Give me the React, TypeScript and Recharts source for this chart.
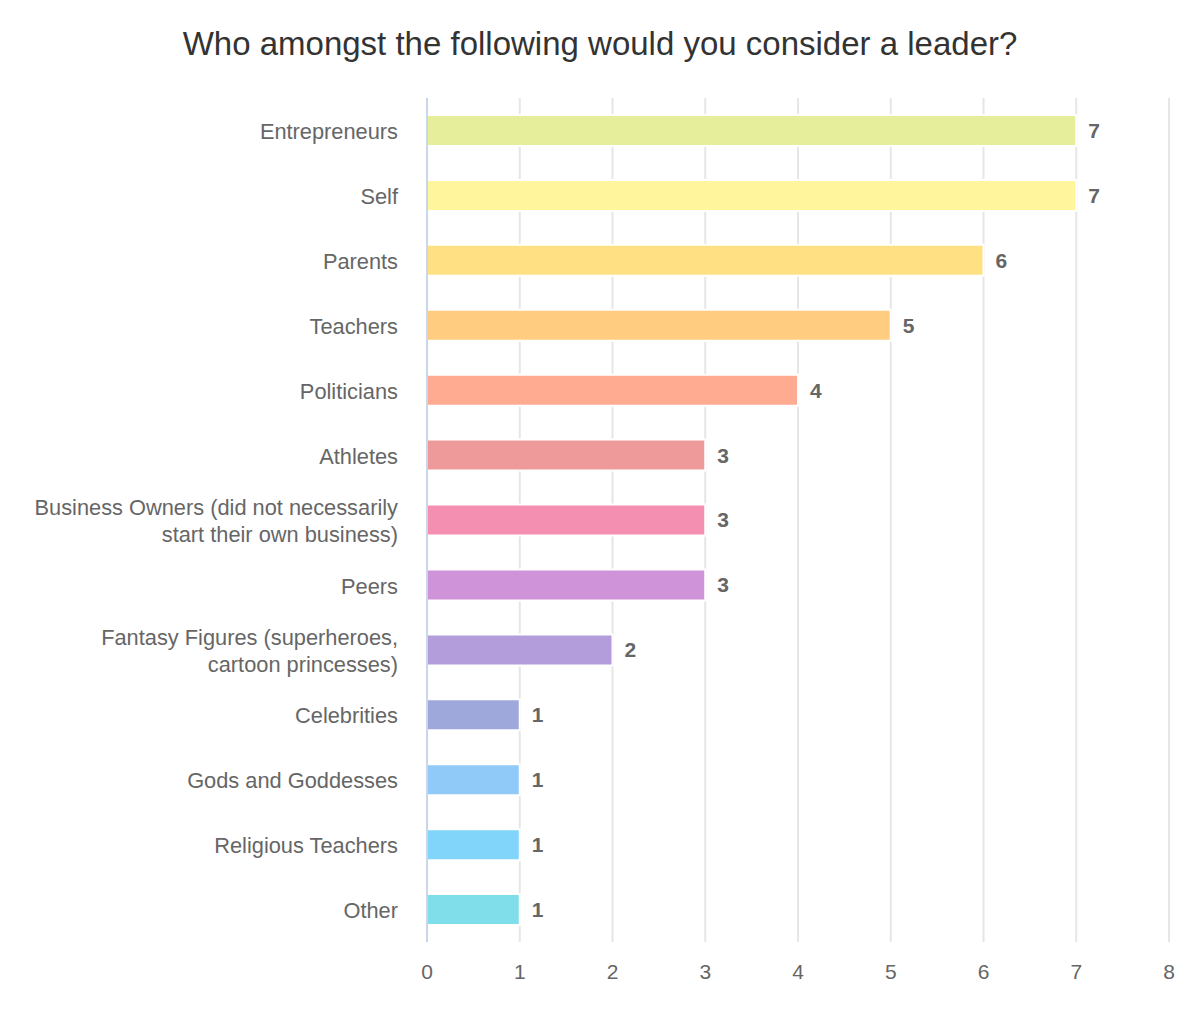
import { BarChart, Bar, XAxis, YAxis, CartesianGrid, Cell, LabelList } from 'recharts'

const categories = [
  'Entrepreneurs',
  'Self',
  'Parents',
  'Teachers',
  'Politicians',
  'Athletes',
  'Business Owners (did not necessarily\nstart their own business)',
  'Peers',
  'Fantasy Figures (superheroes,\ncartoon princesses)',
  'Celebrities',
  'Gods and Goddesses',
  'Religious Teachers',
  'Other',
]

const counts = [7, 7, 6, 5, 4, 3, 3, 3, 2, 1, 1, 1, 1]

const barColors = [
  '#e6ee9c', '#fff59d', '#ffe082', '#ffcc80', '#ffab91', '#ef9a9a', '#f48fb1',
  '#ce93d8', '#b39ddb', '#9fa8da', '#90caf9', '#81d4fa', '#80deea',
]

const xTicks = [0, 1, 2, 3, 4, 5, 6, 7, 8]

const data = categories.map((name, i) => ({ name, value: counts[i] }))

const FONT = '"Liberation Sans", Arial, sans-serif'

function CategoryTick({ x, y, payload }: any) {
  const lines = String(payload.value).split('\n')
  const lh = 27
  const start = -((lines.length - 1) * lh) / 2
  return (
    <text x={x} y={y} textAnchor="end" fill="#666" fontSize={21.8} fontFamily={FONT}>
      {lines.map((l, i) => (
        <tspan key={i} x={x} y={y + start + i * lh + 1} dy="0.35em">{l}</tspan>
      ))}
    </text>
  )
}

export default function App() {
  return (
    <div style={{ position: 'absolute', left: 0, top: 0, width: 1200, height: 1010, background: '#fff' }}>
      <div
        style={{
          position: 'absolute', left: 0, top: 24, width: 1200, textAlign: 'center',
          fontFamily: FONT, fontSize: 33, color: '#333', lineHeight: '40px',
        }}
      >
        Who amongst the following would you consider a leader?
      </div>
      <BarChart
        width={1200}
        height={1010}
        data={data}
        layout="vertical"
        margin={{ top: 98, right: 31, bottom: 38, left: 0 }}
        barCategoryGap={0}
      >
        <CartesianGrid horizontal={false} stroke="#e6e6e6" strokeWidth={2} />
        <XAxis
          type="number"
          domain={[0, 8]}
          ticks={xTicks}
          interval={0}
          height={30}
          axisLine={false}
          tickLine={false}
          tickMargin={16}
          tick={{ fontSize: 21, fill: '#666', fontFamily: FONT }}
        />
        <YAxis
          type="category"
          dataKey="name"
          width={427}
          interval={0}
          tickLine={false}
          tickMargin={23}
          axisLine={{ stroke: '#ccd6eb', strokeWidth: 2 }}
          tick={<CategoryTick />}
        />
        <Bar dataKey="value" barSize={31} stroke="#fff" strokeWidth={2} isAnimationActive={false}>
          {data.map((d, i) => (
            <Cell key={d.name} fill={barColors[i]} />
          ))}
          <LabelList
            dataKey="value"
            position="right"
            offset={12}
            fill="#666"
            fontSize={21}
            fontWeight="bold"
            fontFamily={FONT}
          />
        </Bar>
      </BarChart>
    </div>
  )
}
